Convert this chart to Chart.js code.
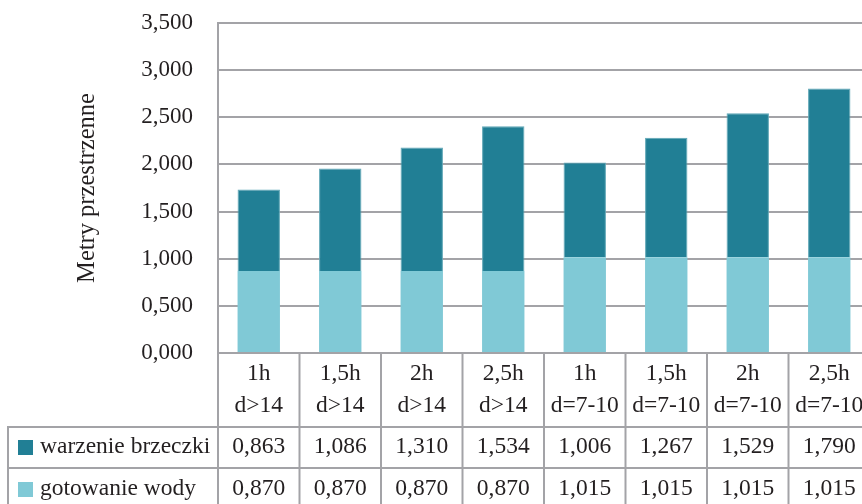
<!DOCTYPE html>
<html lang="pl">
<head>
<meta charset="utf-8">
<title>Metry przestrzenne</title>
<script src="https://cdn.jsdelivr.net/npm/chart.js@4/dist/chart.umd.min.js"></script>
<style>
  html, body { margin: 0; padding: 0; background: #fff; overflow: hidden; }
  #wrap { width: 880px; height: 504px; }
</style>
</head>
<body>
<div id="wrap"><canvas id="wykres"></canvas></div>
<script>
const kategorie = [
  ['1h', 'd>14'], ['1,5h', 'd>14'], ['2h', 'd>14'], ['2,5h', 'd>14'],
  ['1h', 'd=7-10'], ['1,5h', 'd=7-10'], ['2h', 'd=7-10'], ['2,5h', 'd=7-10']
]
const warzenie = [0.863, 1.086, 1.310, 1.534, 1.006, 1.267, 1.529, 1.790]
const gotowanie = [0.870, 0.870, 0.870, 0.870, 1.015, 1.015, 1.015, 1.015]
const skalaY = [0, 0.5, 1, 1.5, 2, 2.5, 3, 3.5]

const CIEMNY = '#217f95'
const JASNY = '#80c9d6'
const SIATKA = '#a3a3a7'
const TEKST = '#231f20'
const FONT = '"Liberation Serif", "Times New Roman", serif'

const liczba = v => v.toFixed(3).replace('.', ',')

Chart.defaults.font.family = FONT
Chart.defaults.font.size = 23
Chart.defaults.color = TEKST

// tabela danych pod wykresem: podpisy kategorii, legenda i wartości
const tabela = {
  id: 'tabela',
  afterDraw(chart) {
    const { ctx, chartArea, scales: { x } } = chart
    const { left, top, bottom } = chartArea
    const w = chart.width, h = chart.height
    const krok = x.getPixelForValue(1) - x.getPixelForValue(0)
    const wiersz1 = bottom + 74
    const wiersz2 = bottom + 115
    const lewo = 8

    ctx.save()
    ctx.strokeStyle = SIATKA
    ctx.lineWidth = 2
    ctx.beginPath()
    // poziome
    ctx.moveTo(lewo, wiersz1); ctx.lineTo(w, wiersz1)
    ctx.moveTo(lewo, wiersz2); ctx.lineTo(w, wiersz2)
    // pionowe
    ctx.moveTo(lewo, wiersz1 - 1); ctx.lineTo(lewo, h)
    ctx.moveTo(left, top); ctx.lineTo(left, h)
    for (let i = 0; i < kategorie.length; i++) {
      const xp = x.getPixelForValue(i) + krok / 2
      ctx.moveTo(xp, bottom); ctx.lineTo(xp, h)
    }
    ctx.stroke()

    ctx.fillStyle = TEKST
    ctx.font = '23.5px ' + FONT
    ctx.textAlign = 'center'
    ctx.textBaseline = 'middle'
    kategorie.forEach((k, i) => {
      const xp = x.getPixelForValue(i)
      ctx.fillText(k[0], xp, bottom + 21)
      ctx.fillText(k[1], xp, bottom + 53)
      ctx.fillText(liczba(warzenie[i]), xp, bottom + 94)
      ctx.fillText(liczba(gotowanie[i]), xp, bottom + 136)
    })

    // legenda w pierwszej kolumnie
    const legenda = [
      { tekst: 'warzenie brzeczki', kolor: CIEMNY, y: bottom + 94 },
      { tekst: 'gotowanie wody', kolor: JASNY, y: bottom + 136 }
    ]
    ctx.textAlign = 'left'
    legenda.forEach(l => {
      ctx.fillStyle = l.kolor
      ctx.fillRect(18, l.y - 7, 15, 15)
      ctx.fillStyle = TEKST
      ctx.fillText(l.tekst, 40, l.y)
    })
    ctx.restore()
  }
}

new Chart(document.getElementById('wykres'), {
  type: 'bar',
  data: {
    labels: kategorie,
    datasets: [
      {
        label: 'gotowanie wody',
        data: gotowanie,
        backgroundColor: JASNY,
        borderWidth: 0
      },
      {
        label: 'warzenie brzeczki',
        data: warzenie,
        backgroundColor: CIEMNY,
        borderColor: '#5ea6b6',
        borderWidth: { top: 1, left: 1, right: 1, bottom: 0 }
      }
    ]
  },
  options: {
    responsive: true,
    maintainAspectRatio: false,
    animation: false,
    layout: { padding: { top: 23, right: 10, bottom: 151, left: 0 } },
    datasets: { bar: { categoryPercentage: 1, barPercentage: 0.52 } },
    plugins: { legend: { display: false }, tooltip: { enabled: false } },
    scales: {
      x: { stacked: true, display: false },
      y: {
        stacked: true,
        min: skalaY[0],
        max: skalaY[skalaY.length - 1],
        afterFit: s => {
          s.width = 218
          s.paddingTop = 0
          s.paddingBottom = 0
        },
        afterBuildTicks: s => { s.ticks = skalaY.map(v => ({ value: v })) },
        ticks: { padding: 25, callback: v => liczba(v) },
        grid: { color: SIATKA, lineWidth: 2, drawTicks: false },
        border: { display: true, color: SIATKA, width: 2 },
        title: {
          display: true,
          text: 'Metry przestrzenne',
          padding: { top: 73, bottom: 0 },
          font: { size: 24.5 }
        }
      }
    }
  },
  plugins: [tabela]
})
</script>
</body>
</html>
